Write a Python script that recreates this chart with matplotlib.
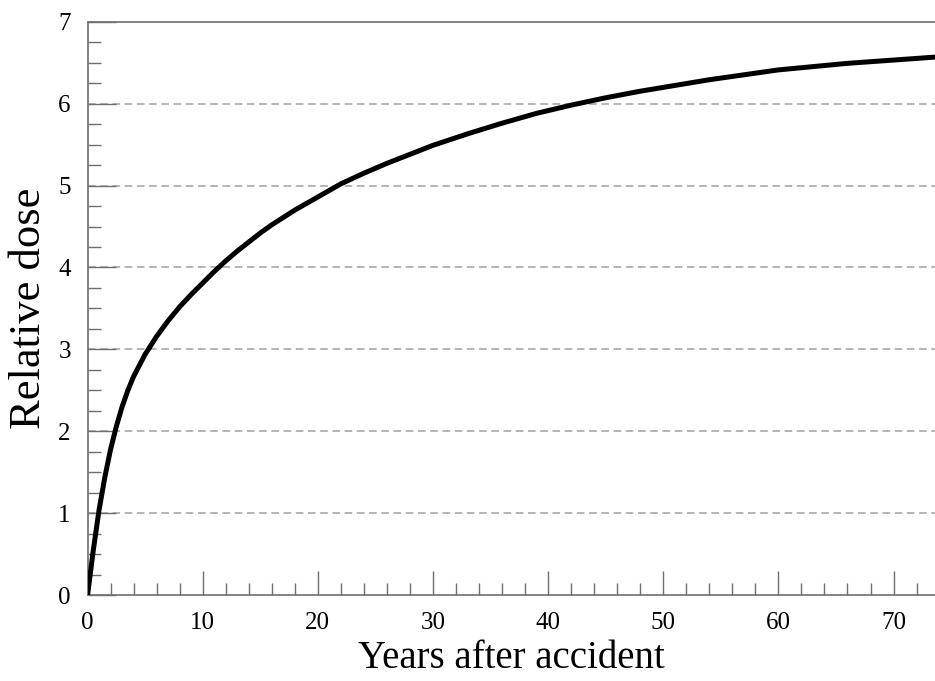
import numpy as np
import matplotlib.pyplot as plt
from matplotlib.ticker import MultipleLocator

# Значення
years = [0, 0.5, 1, 1.5, 2, 2.5, 3, 3.5, 4, 5, 6, 7, 8, 9, 10, 11, 12, 13, 14,
         15, 16, 18, 20, 22, 24, 26, 28, 30, 33, 36, 39, 42, 45, 48, 51, 54,
         57, 60, 63, 66, 70, 74]
dose = [0, 0.55, 1.04, 1.44, 1.78, 2.06, 2.3, 2.5, 2.67, 2.94, 3.16, 3.35,
        3.52, 3.67, 3.81, 3.95, 4.08, 4.2, 4.31, 4.42, 4.52, 4.7, 4.86, 5.02,
        5.15, 5.27, 5.38, 5.49, 5.63, 5.76, 5.88, 5.98, 6.07, 6.15, 6.22,
        6.29, 6.35, 6.41, 6.45, 6.49, 6.53, 6.57]

grid_levels = [1, 2, 3, 4, 5, 6]

plt.rcParams['font.family'] = ['Liberation Serif', 'DejaVu Serif']

fig = plt.figure(figsize=(9.35, 6.81), dpi=100)
ax = fig.add_axes([0.0936, 0.1256, 0.9064, 0.8428])

ax.plot(years, dose, color='black', linewidth=3.6, solid_capstyle='butt',
        solid_joinstyle='round', zorder=3)

for lev in grid_levels:
    ax.axhline(lev, color='#a0a0a0', linewidth=1.1, linestyle=(0, (5, 3)), zorder=1)

ax.set_xlim(0, 73.6)
ax.set_ylim(0, 7)
ax.xaxis.set_major_locator(MultipleLocator(10))
ax.xaxis.set_minor_locator(MultipleLocator(2))
ax.yaxis.set_major_locator(MultipleLocator(1))
ax.yaxis.set_minor_locator(MultipleLocator(0.25))

ax.spines['right'].set_visible(False)
for s in ['left', 'bottom', 'top']:
    ax.spines[s].set_color('#6e6e6e')
    ax.spines[s].set_linewidth(1.2)

ax.tick_params(which='major', direction='in', width=1.0, color='#6e6e6e', labelsize=18)
ax.tick_params(axis='x', which='major', length=17, pad=12)
ax.tick_params(axis='y', which='major', length=20, pad=12)
ax.tick_params(which='minor', direction='in', length=9, width=1.0, color='#6e6e6e')

ax.set_xlabel('Years after accident', fontsize=28, labelpad=4)
ax.set_ylabel('Relative dose', fontsize=32, labelpad=7)

fig.savefig('out.png', dpi=100)
